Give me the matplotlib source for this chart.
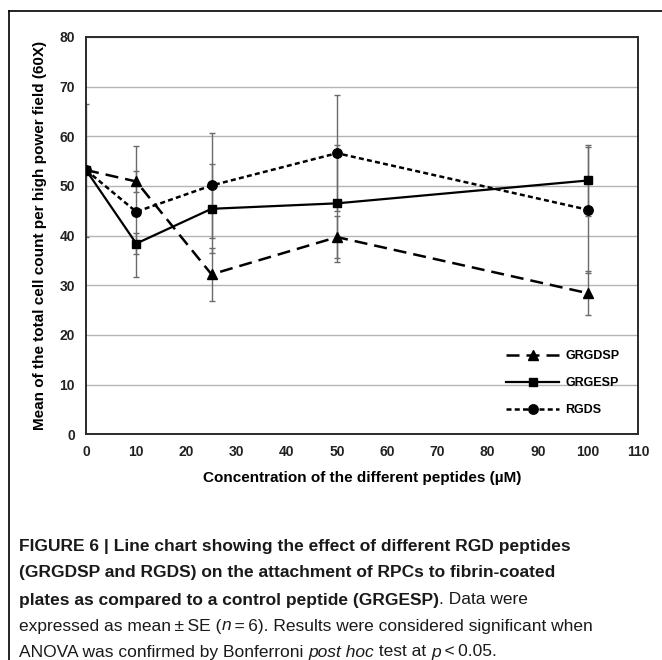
import numpy as np
import matplotlib
matplotlib.use('Agg')
import matplotlib.pyplot as plt
from matplotlib.lines import Line2D

# Data
conc = [0, 10, 25, 50, 100]

grgdsp = [53.2, 50.9, 32.2, 39.7, 28.4]
grgdsp_se = [0, 2.2, 5.3, 4.3, 4.4]

grgesp = [53.2, 38.4, 45.4, 46.5, 51.1]
grgesp_se = [13.4, 2.1, 9.0, 11.8, 7.1]

rgds = [53.2, 44.8, 50.1, 56.6, 45.2]
rgds_se = [0, 13.2, 10.5, 11.7, 12.7]

x_ticks = list(range(0, 111, 10))
y_ticks = list(range(0, 81, 10))

font = 'Liberation Sans'
cap_font = ['Liberation Sans Narrow', 'Liberation Sans', 'DejaVu Sans']

fig = plt.figure(figsize=(6.62, 6.60), dpi=100)
ax = fig.add_axes([0.130, 0.342, 0.834, 0.602])

# error bars first, in grey under the lines
for y, se in [(grgdsp, grgdsp_se), (grgesp, grgesp_se), (rgds, rgds_se)]:
    ax.errorbar(conc, y, yerr=se, fmt='none', ecolor='#6a6a6a',
                elinewidth=1.0, capsize=2.5, capthick=1.0, zorder=2)

ax.plot(conc, grgdsp, color='black', lw=1.8, dashes=(5.2, 2.8),
        marker='^', ms=7, label='GRGDSP', zorder=4)
ax.plot(conc, grgesp, color='black', lw=1.6, ls='-',
        marker='s', ms=6.3, label='GRGESP', zorder=5)
ax.plot(conc, rgds, color='black', lw=1.8, dashes=(2.0, 1.3),
        marker='o', ms=6.8, label='RGDS', zorder=3)

ax.set_xlim(0, 110)
ax.set_ylim(0, 80)
ax.set_xticks(x_ticks)
ax.set_yticks(y_ticks)
ax.yaxis.grid(True, color='#b4b4b4', lw=1.0)
ax.set_axisbelow(True)
ax.tick_params(length=0, pad=8, labelsize=10)
for lab in ax.get_xticklabels() + ax.get_yticklabels():
    lab.set_fontweight('bold')
    lab.set_family(font)
    lab.set_color('#222222')
for s in ax.spines.values():
    s.set_color('#2a2a2a')
    s.set_linewidth(1.4)

ax.set_xlabel('Concentration of the different peptides (\u00b5M)',
              fontsize=11, fontweight='bold', family=font, labelpad=8)
ax.set_ylabel('Mean of the total cell count per high power field (60X)',
              fontsize=11, fontweight='bold', family=font, labelpad=9)

leg = ax.legend(loc='lower right', bbox_to_anchor=(0.986, 0.017), frameon=False,
                handlelength=4.2, handletextpad=0.5, numpoints=1, labelspacing=1.2,
                prop={'family': font, 'weight': 'bold', 'size': 9})

# outer frame (left and top)
fig.add_artist(Line2D([0.0136, 0.0136], [0.0, 0.983], color='black', lw=1.2,
                      transform=fig.transFigure))
fig.add_artist(Line2D([0.0136, 1.0], [0.983, 0.983], color='black', lw=1.2,
                      transform=fig.transFigure))

# caption with mixed styles
caption = [
    [('FIGURE 6 | Line chart showing the effect of different RGD peptides', 'bold', 'normal')],
    [('(GRGDSP and RGDS) on the attachment of RPCs to fibrin-coated', 'bold', 'normal')],
    [('plates as compared to a control peptide (GRGESP)', 'bold', 'normal'),
     ('. Data were', 'normal', 'normal')],
    [('expressed as mean\u2009\u00b1\u2009SE (', 'normal', 'normal'), ('n', 'normal', 'italic'),
     ('\u2009=\u20096). Results were considered significant when', 'normal', 'normal')],
    [('ANOVA was confirmed by Bonferroni ', 'normal', 'normal'), ('post hoc', 'normal', 'italic'),
     (' test at ', 'normal', 'normal'), ('p', 'normal', 'italic'),
     ('\u2009<\u20090.05.', 'normal', 'normal')],
]
line_y = [547, 573, 600, 626, 652]

fig.canvas.draw()
renderer = fig.canvas.get_renderer()
W, H = fig.bbox.width, fig.bbox.height
for segs, yp in zip(caption, line_y):
    xp = 19.0
    for txt, w, st in segs:
        t = fig.text(xp / W, 1 - yp / H, txt, fontsize=12.5, fontweight=w,
                     fontstyle=st, family=cap_font, va='center', ha='left',
                     color='#1a1a1a')
        bb = t.get_window_extent(renderer)
        xp += bb.width

fig.savefig('out.png', dpi=100)
